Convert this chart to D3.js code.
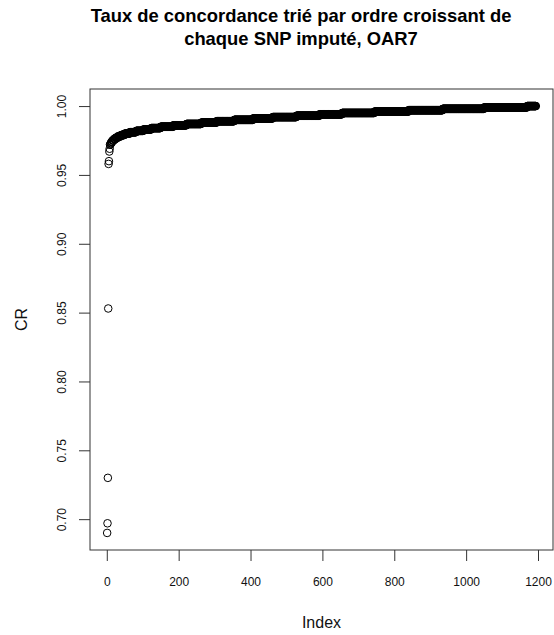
<!DOCTYPE html>
<html>
<head>
<meta charset="utf-8">
<script src="https://cdn.jsdelivr.net/npm/d3@7"></script>
<style>
    body { margin: 0; background: #fff; }
    svg { display: block; font-family: "Liberation Sans", Arial, sans-serif; }
</style>
</head>
<body>
<svg id="chart" width="554" height="635"></svg>
<script>
// first sorted SNPs, the ones that sit apart from the curve
const lowCR = [0.690, 0.697, 0.730, 0.853, 0.958, 0.960, 0.967, 0.969];

// rest of the sorted curve: CR level and how many SNPs have that level
const crLevels = [0.972, 0.973, 0.974, 0.975, 0.976, 0.977, 0.978, 0.979, 0.980, 0.981,
    0.982, 0.983, 0.984, 0.985, 0.986, 0.987, 0.988, 0.989, 0.990, 0.991,
    0.992, 0.993, 0.994, 0.995, 0.996, 0.997, 0.998, 0.999, 1.000];
const crCounts = [2, 2, 3, 4, 5, 6, 9, 10, 14, 18,
    20, 22, 26, 35, 37, 41, 43, 49, 52, 55,
    66, 64, 63, 90, 95, 95, 115, 120, 25];

const xTicks = [0, 200, 400, 600, 800, 1000, 1200];
const yTicks = [0.70, 0.75, 0.80, 0.85, 0.90, 0.95, 1.00];

const titleLines = ["Taux de concordance trié par ordre croissant de", "chaque SNP imputé, OAR7"];

// sorted vector, index starts at 1 like in R
var cr = lowCR.slice();
crLevels.forEach((v, i) => {
    for (let k = 0; k < crCounts[i]; k++) cr.push(v);
});
const pts = cr.map((v, i) => ({ index: i + 1, cr: v }));

const svg = d3.select("#chart");
const box = { left: 90, top: 89, right: 553, bottom: 550 };

// R pads the data range by 4% each side
function rRange(lo, hi) {
    const p = (hi - lo) * 0.04;
    return [lo - p, hi + p];
}

const x = d3.scaleLinear()
    .domain(rRange(1, pts.length))
    .range([box.left, box.right]);
const y = d3.scaleLinear()
    .domain(rRange(d3.min(cr), d3.max(cr)))
    .range([box.bottom, box.top]);

const ink = "#333";

// points
svg.append("g")
    .selectAll("circle")
    .data(pts)
    .enter()
    .append("circle")
    .attr("cx", d => x(d.index))
    .attr("cy", d => y(d.cr))
    .attr("r", 3.8)
    .attr("fill", "none")
    .attr("stroke", "#000")
    .attr("stroke-width", 1);

// frame
svg.append("rect")
    .attr("x", box.left)
    .attr("y", box.top)
    .attr("width", box.right - box.left)
    .attr("height", box.bottom - box.top)
    .attr("fill", "none")
    .attr("stroke", ink)
    .attr("stroke-width", 1);

// x axis
const xAxis = svg.append("g")
    .attr("transform", `translate(0,${box.bottom})`)
    .call(d3.axisBottom(x).tickValues(xTicks).tickSize(11).tickPadding(16).tickFormat(d3.format("d")));
xAxis.select(".domain").remove();
xAxis.selectAll("line").attr("stroke", ink);
xAxis.selectAll("text")
    .attr("font-size", 12)
    .attr("font-family", "Liberation Sans, Arial, sans-serif")
    .attr("fill", "#111");

// y axis, labels turned like R's las=0
const yAxis = svg.append("g")
    .attr("transform", `translate(${box.left},0)`)
    .call(d3.axisLeft(y).tickValues(yTicks).tickSize(11).tickFormat(d3.format(".2f")));
yAxis.select(".domain").remove();
yAxis.selectAll("line").attr("stroke", ink);
yAxis.selectAll("text")
    .attr("x", null)
    .attr("dy", null)
    .attr("transform", "translate(-24,0) rotate(-90)")
    .attr("text-anchor", "middle")
    .attr("font-size", 12)
    .attr("font-family", "Liberation Sans, Arial, sans-serif")
    .attr("fill", "#111");

// axis titles
svg.append("text")
    .attr("x", (box.left + box.right) / 2)
    .attr("y", 628)
    .attr("text-anchor", "middle")
    .attr("font-size", 16)
    .attr("fill", "#111")
    .text("Index");

svg.append("text")
    .attr("transform", `translate(27,${(box.top + box.bottom) / 2}) rotate(-90)`)
    .attr("text-anchor", "middle")
    .attr("font-size", 16)
    .attr("fill", "#111")
    .text("CR");

// title
svg.append("g")
    .selectAll("text")
    .data(titleLines)
    .enter()
    .append("text")
    .attr("x", 301)
    .attr("y", (d, i) => 22 + i * 23)
    .attr("text-anchor", "middle")
    .attr("font-size", 18.4)
    .attr("font-weight", "bold")
    .attr("fill", "#000")
    .text(d => d);
</script>
</body>
</html>
